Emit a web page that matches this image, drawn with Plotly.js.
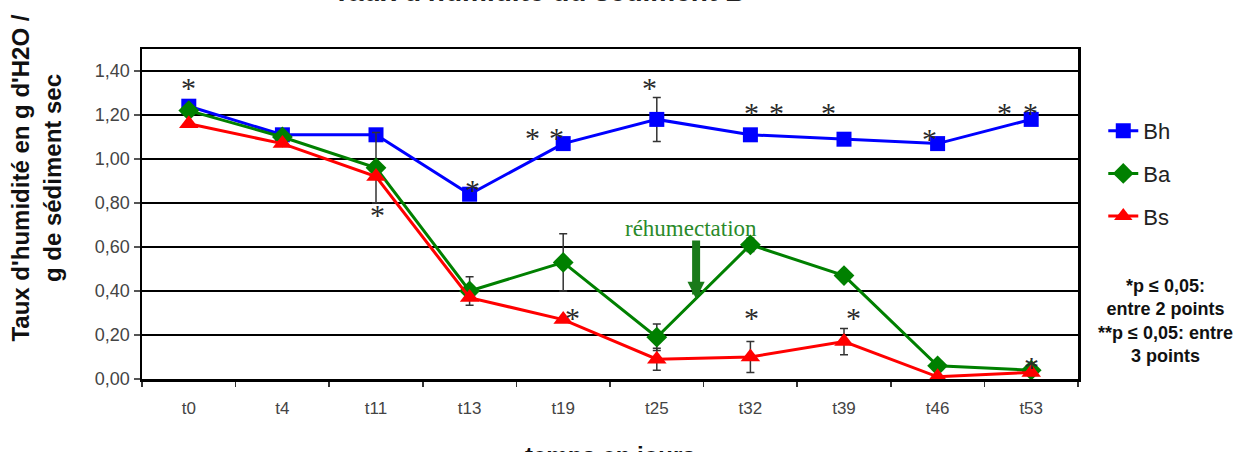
<!DOCTYPE html>
<html>
<head>
<meta charset="utf-8">
<script src="https://cdn.plot.ly/plotly-3.0.1.min.js"></script>
<style>
  html, body { margin: 0; padding: 0; background: #fff; }
  #chart { width: 1239px; height: 452px; }
</style>
</head>
<body>
<div id="chart"></div>
<script>
// Sampling days
const categories = ['t0', 't4', 't11', 't13', 't19', 't25', 't32', 't39', 't46', 't53'];

// Moisture content (g H2O / g dry sediment) per horizon
const bh = [1.24, 1.11, 1.11, 0.84, 1.07, 1.18, 1.11, 1.09, 1.07, 1.18];
const ba = [1.22, 1.10, 0.96, 0.40, 0.53, 0.19, 0.61, 0.47, 0.06, 0.04];
const bs = [1.16, 1.07, 0.92, 0.37, 0.27, 0.09, 0.10, 0.17, 0.01, 0.03];

// Standard deviations
const bhErr = [0, 0, 0, 0, 0, 0.10, 0, 0, 0, 0];
const baErr = [0, 0, 0.16, 0.065, 0.13, 0.06, 0.03, 0, 0.01, 0.01];
const bsErr = [0, 0, 0, 0, 0, 0.05, 0.07, 0.06, 0, 0];

// Significance marks: [category index, level, label]
const starMarks = [
  [0, 1.344, '*'],
  [2.02, 0.767, '*'],
  [3.03, 0.881, '*'],
  [3.67, 1.117, '*'], [3.93, 1.117, '*'],
  [4.92, 1.344, '*'],
  [6.01, 1.231, '*'], [6.28, 1.231, '*'],
  [6.83, 1.231, '*'],
  [7.91, 1.113, '*'],
  [8.72, 1.231, '*'], [8.99, 1.231, '*'],
  [4.10, 0.30, '*'],
  [6.01, 0.30, '*'],
  [7.10, 0.30, '*'],
  [9.0, 0.073, '*']
];

const SANS = 'Liberation Sans, Arial, sans-serif';
const SERIF = 'Liberation Serif, Times New Roman, serif';
const errStyle = (arr) => ({
  type: 'data', array: arr, visible: true,
  color: '#333333', thickness: 1.5, width: 4
});

function series(name, y, err, color, symbol, size, group) {
  return {
    type: 'scatter', mode: 'lines+markers', name: name,
    x: categories, y: y, legendgroup: group,
    line: { color: color, width: 3 },
    marker: { color: color, symbol: symbol, size: size, line: { width: 0 } },
    error_y: errStyle(err),
    cliponaxis: false
  };
}

const traces = [
  series('Bh', bh, bhErr, '#0000ff', 'square', 15, 'g1'),
  series('Ba', ba, baErr, '#008000', 'diamond', 16, 'g2'),
  series('Bs', bs, bsErr, '#ff0000', 'triangle-up', 17, 'g3')
];

const annotations = starMarks.map(([xi, yv, t]) => ({
  x: xi, y: yv, xref: 'x', yref: 'y', text: t, showarrow: false,
  yshift: -4,
  font: { family: SERIF, size: 30, color: '#2a2a2a' }
}));

// Rewetting label and arrow
annotations.push({
  x: 5.37, y: 0.686, xref: 'x', yref: 'y', text: 'réhumectation',
  showarrow: false, font: { family: SERIF, size: 23, color: '#2a8a2a' }
});
annotations.push({
  x: 5.42, y: 0.364, xref: 'x', yref: 'y', text: '',
  showarrow: true, ax: 0, ay: -60, arrowhead: 2, arrowsize: 0.43,
  arrowwidth: 8, arrowcolor: '#1a7a1a'
});

// Chart title (top), axis titles
annotations.push({
  x: 0.424, y: 1.12, xref: 'paper', yref: 'paper', xanchor: 'center', yanchor: 'bottom',
  text: '<b>Taux d\'humidité du sédiment B</b>', showarrow: false,
  font: { family: SANS, size: 28, color: '#222' }
});
annotations.push({
  x: 0.5, y: -0.186, xref: 'paper', yref: 'paper', xanchor: 'center', yanchor: 'top',
  text: '<b>temps en jours</b>', showarrow: false,
  font: { family: SANS, size: 24, color: '#111' }
});
annotations.push({
  x: -0.1127, y: 0.609, xref: 'paper', yref: 'paper', xanchor: 'center', yanchor: 'middle',
  textangle: -90,
  text: '<b>Taux d\'humidité en g d\'H2O /<br>g de sédiment sec</b>', showarrow: false,
  font: { family: SANS, size: 24, color: '#111' }
});

// Significance note
annotations.push({
  x: 1.093, y: 0.176, xref: 'paper', yref: 'paper', xanchor: 'center', yanchor: 'middle',
  text: '<b>*p ≤ 0,05:<br>entre 2 points<br>**p ≤ 0,05: entre<br>3 points</b>',
  showarrow: false, align: 'center',
  font: { family: SANS, size: 18, color: '#111' }
});

const layout = {
  width: 1239, height: 452,
  margin: { l: 142, r: 161, t: 49, b: 73 },
  paper_bgcolor: '#ffffff', plot_bgcolor: '#ffffff',
  separators: ', ',
  showlegend: true,
  legend: {
    x: 1.027, y: 0.815, xanchor: 'left', yanchor: 'top',
    traceorder: 'grouped', tracegroupgap: 11,
    font: { family: SANS, size: 22, color: '#222' },
    bgcolor: 'rgba(0,0,0,0)', borderwidth: 0
  },
  xaxis: {
    type: 'category', categoryorder: 'array', categoryarray: categories,
    range: [-0.5, 9.5], tickson: 'boundaries',
    showgrid: false, zeroline: false,
    showline: true, linecolor: '#000', linewidth: 2.5, mirror: true,
    ticks: 'outside', ticklen: 5, tickwidth: 1.5, tickcolor: '#333',
    ticklabelstandoff: 12,
    tickfont: { family: SANS, size: 17, color: '#444' }
  },
  yaxis: {
    range: [0, 1.5], tick0: 0, dtick: 0.2, tickformat: '.2f',
    showgrid: true, gridcolor: '#000', gridwidth: 2.5, zeroline: false,
    showline: true, linecolor: '#000', linewidth: 2.5, mirror: true,
    ticks: 'outside', ticklen: 6, tickwidth: 1.5, tickcolor: '#555',
    tickfont: { family: SANS, size: 18, color: '#444' }
  },
  annotations: annotations
};

Plotly.newPlot('chart', traces, layout, { displayModeBar: false, staticPlot: true });
</script>
</body>
</html>
